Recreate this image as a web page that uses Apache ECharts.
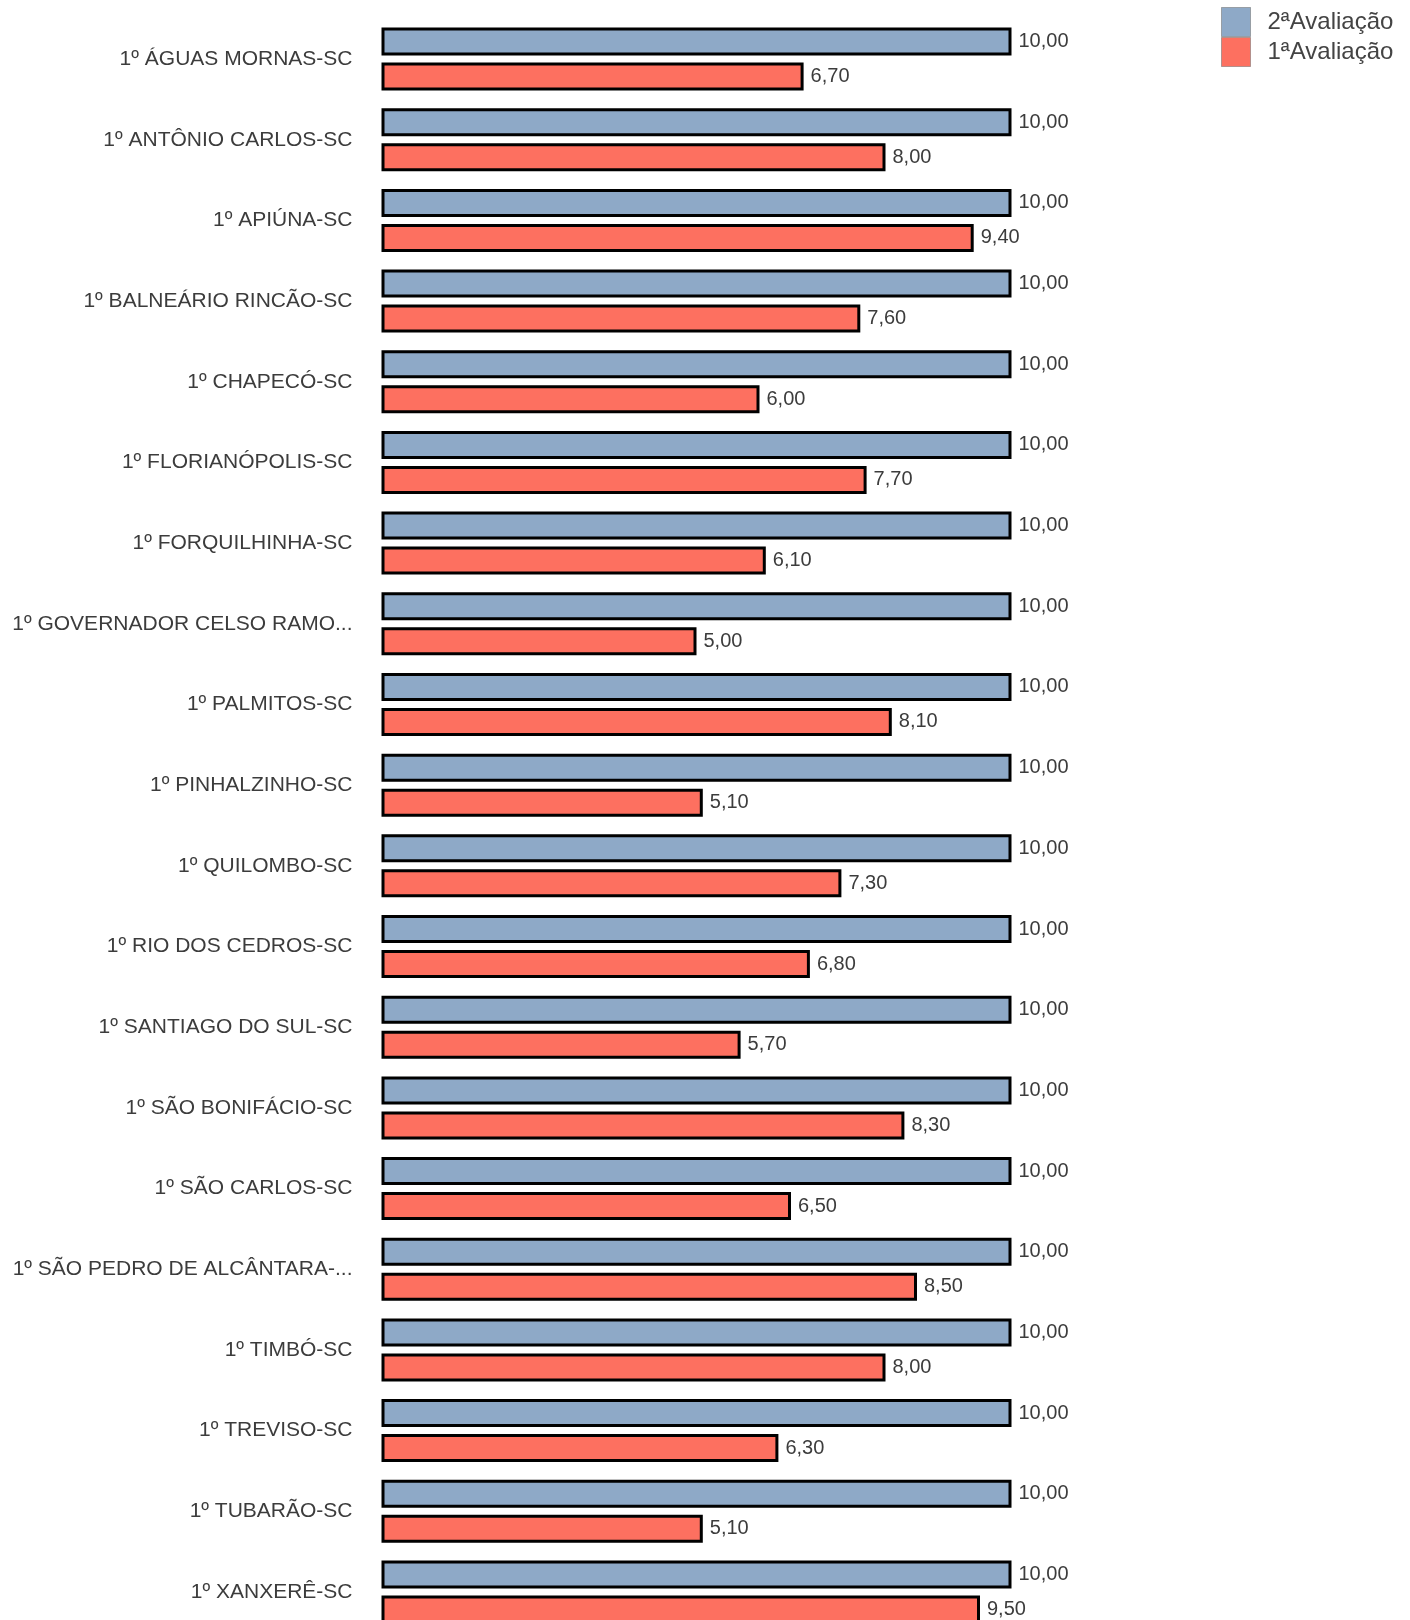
<!DOCTYPE html>
<html>
<head>
<meta charset="utf-8">
<script src="https://cdn.jsdelivr.net/npm/echarts@6/dist/echarts.min.js"></script>
<style>html,body{margin:0;padding:0;background:#fff;overflow:hidden}#c{width:1410px;height:1660px}</style>
</head>
<body>
<div id="c"></div>
<script>
const categories = [
  '1º ÁGUAS MORNAS-SC', '1º ANTÔNIO CARLOS-SC', '1º APIÚNA-SC', '1º BALNEÁRIO RINCÃO-SC',
  '1º CHAPECÓ-SC', '1º FLORIANÓPOLIS-SC', '1º FORQUILHINHA-SC', '1º GOVERNADOR CELSO RAMO...',
  '1º PALMITOS-SC', '1º PINHALZINHO-SC', '1º QUILOMBO-SC', '1º RIO DOS CEDROS-SC',
  '1º SANTIAGO DO SUL-SC', '1º SÃO BONIFÁCIO-SC', '1º SÃO CARLOS-SC', '1º SÃO PEDRO DE ALCÂNTARA-...',
  '1º TIMBÓ-SC', '1º TREVISO-SC', '1º TUBARÃO-SC', '1º XANXERÊ-SC'
];
const seriesNames = ['2ªAvaliação', '1ªAvaliação'];
const avaliacao2 = [10, 10, 10, 10, 10, 10, 10, 10, 10, 10, 10, 10, 10, 10, 10, 10, 10, 10, 10, 10];
const avaliacao1 = [6.7, 8.0, 9.4, 7.6, 6.0, 7.7, 6.1, 5.0, 8.1, 5.1, 7.3, 6.8, 5.7, 8.3, 6.5, 8.5, 8.0, 6.3, 5.1, 9.5];

const FONT = 'Liberation Sans, Arial, sans-serif';
const fmt = p => p.value.toFixed(2).replace('.', ',');
const labelCfg = { show: true, position: 'right', distance: 7, formatter: fmt, color: '#3c3c3c', fontSize: 20, fontFamily: FONT };

const chart = echarts.init(document.getElementById('c'));
chart.setOption({
  animation: false,
  legend: {
    data: seriesNames,
    orient: 'vertical',
    left: 1221, top: 7, padding: 0,
    itemWidth: 29, itemHeight: 29, itemGap: 0,
    icon: 'rect',
    itemStyle: { borderColor: '#666', borderWidth: 1, borderType: 'dotted' },
    textStyle: { fontSize: 24, color: '#444', fontFamily: FONT, padding: [0, 0, 0, 12] }
  },
  grid: { left: 381.5, top: 18.7, width: 630, height: 1613.6 },
  xAxis: { type: 'value', min: 0, max: 10, show: false },
  yAxis: {
    type: 'category', data: categories, inverse: true,
    axisLine: { show: false }, axisTick: { show: false },
    axisLabel: { fontSize: 21, color: '#3c3c3c', fontFamily: FONT, margin: 29 }
  },
  series: [
    { name: seriesNames[0], type: 'bar', data: avaliacao2, barWidth: 28, barGap: '25%',
      itemStyle: { color: '#8EA9C7', borderColor: '#000', borderWidth: 3 }, label: labelCfg },
    { name: seriesNames[1], type: 'bar', data: avaliacao1, barWidth: 28, barGap: '25%',
      itemStyle: { color: '#FD7060', borderColor: '#000', borderWidth: 3 }, label: labelCfg }
  ]
});
</script>
</body>
</html>
